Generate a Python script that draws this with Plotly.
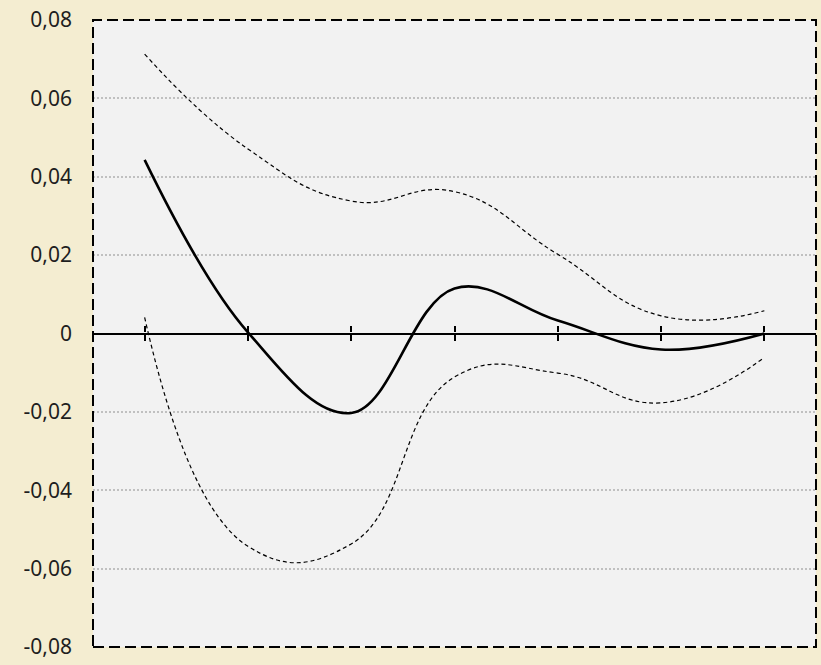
import plotly.graph_objects as go

# Period index along the horizontal axis (no labels drawn)
periods = ["1", "2", "3", "4", "5", "6", "7"]

# Impulse response estimate and its confidence band
response = [0.0443, 0.0003, -0.0203, 0.0115, 0.0033, -0.0041, 0.0]
upper_band = [0.0713, 0.0471, 0.0338, 0.0362, 0.0202, 0.0045, 0.0058]
lower_band = [0.0041, -0.0543, -0.0537, -0.0111, -0.0101, -0.0177, -0.0061]

# Vertical axis ticks
y_ticks = [-0.08, -0.06, -0.04, -0.02, 0.0, 0.02, 0.04, 0.06, 0.08]
y_tick_text = ["-0,08", "-0,06", "-0,04", "-0,02", "0", "0,02", "0,04", "0,06", "0,08"]

fig = go.Figure()

band_line = dict(color="black", width=1.2, dash="4px,3px", shape="spline", smoothing=1.3)
fig.add_trace(go.Scatter(x=periods, y=upper_band, mode="lines", line=band_line,
                         hoverinfo="skip", showlegend=False))
fig.add_trace(go.Scatter(x=periods, y=lower_band, mode="lines", line=band_line,
                         hoverinfo="skip", showlegend=False))
fig.add_trace(go.Scatter(x=periods, y=response, mode="lines",
                         line=dict(color="black", width=2.6, shape="spline", smoothing=1.1),
                         showlegend=False))
# invisible trace so the second (upward-tick) axis is rendered
fig.add_trace(go.Scatter(x=periods, y=[0] * len(periods), mode="lines", xaxis="x2",
                         line=dict(width=0), hoverinfo="skip", showlegend=False))

zero_axis = dict(
    type="category",
    range=[-0.5, len(periods) - 0.5],
    anchor="free",
    position=0.5,
    showline=True,
    linecolor="black",
    linewidth=2.2,
    tickcolor="black",
    tickwidth=2,
    ticklen=6,
    showticklabels=False,
    showgrid=False,
    zeroline=False,
    fixedrange=True,
)

fig.update_layout(
    width=821,
    height=665,
    margin=dict(l=93, r=5, t=17, b=14),
    paper_bgcolor="#f4edd1",
    plot_bgcolor="#f2f2f2",
    font=dict(family="Noto Sans, Lato, sans-serif", size=21, color="#1e1e1e"),
    xaxis=dict(zero_axis, ticks="outside"),
    xaxis2=dict(zero_axis, ticks="inside", overlaying="x", matches="x"),
    yaxis=dict(
        range=[-0.08, 0.08],
        tickvals=y_ticks,
        ticktext=y_tick_text,
        showgrid=True,
        gridcolor="#c0c0c0",
        gridwidth=2,
        griddash="2px,2px",
        zeroline=False,
        showline=False,
        ticks="",
        ticklabelstandoff=20,
        fixedrange=True,
    ),
    shapes=[
        dict(type="rect", xref="paper", yref="paper", x0=0, x1=1, y0=0, y1=1,
             line=dict(color="black", width=2, dash="11px,5px"), layer="above")
    ],
)

fig.write_html("out.html")
